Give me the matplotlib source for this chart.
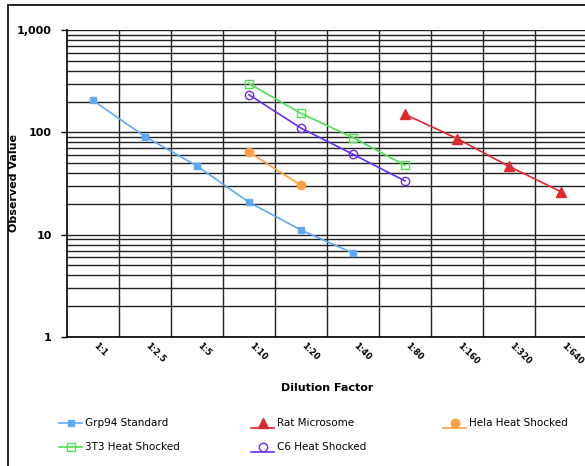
import numpy as np
import matplotlib
matplotlib.use('agg')
import matplotlib.pyplot as plt
import matplotlib.transforms as mtransforms
from matplotlib.patches import Rectangle
from matplotlib.lines import Line2D
from matplotlib.legend_handler import HandlerBase
from matplotlib.ticker import FixedLocator, NullFormatter

# categories and series
dilutions = ['1:1', '1:2.5', '1:5', '1:10', '1:20', '1:40', '1:80', '1:160', '1:320', '1:640']
grp94_x = [0, 1, 2, 3, 4, 5]
grp94 = [205, 91, 47, 20.7, 11.1, 6.6]
rat_x = [6, 7, 8, 9]
rat = [150, 87, 46.5, 26.3]
hela_x = [3, 4]
hela = [64, 30.4]
t3_x = [3, 4, 5, 6]
t3 = [300, 153, 89, 47.5]
c6_x = [3, 4, 5, 6]
c6 = [233, 110, 61, 33.5]


class ExcelHandler(HandlerBase):
    # line + marker; 'under' puts the line below the marker like the old Excel legend
    def __init__(self, under=False):
        super().__init__()
        self.under = under

    def create_artists(self, legend, orig, xdescent, ydescent, width, height, fontsize, trans):
        ym = height / 2 - ydescent
        yl = -ydescent - 1 if self.under else ym
        line = Line2D([-xdescent, width - xdescent], [yl, yl], color=orig.get_color(),
                      lw=orig.get_linewidth(), transform=trans)
        mk = Line2D([width / 2 - xdescent], [ym], marker=orig.get_marker(), ms=orig.get_markersize(),
                    mfc=orig.get_markerfacecolor(), mec=orig.get_markeredgecolor(),
                    ls='none', transform=trans)
        return [line, mk]


W, H = 585, 466
fig = plt.figure(figsize=(W / 100, H / 100), dpi=100)
fig.patches.append(Rectangle((8 / W, -0.1), 1.2, 1 - 5 / H + 0.1, transform=fig.transFigure,
                             fill=False, edgecolor='black', linewidth=1.2))

ax = fig.add_axes([67 / W, 1 - 337 / H, 520 / W, 307 / H])
ax.set_yscale('log')
ax.set_ylim(1, 1000)
ax.set_xlim(-0.5, len(dilutions) - 0.5)

# grid: every decade subdivision plus category boundaries
ax.yaxis.set_major_locator(FixedLocator([1, 10, 100, 1000]))
ax.yaxis.set_minor_locator(FixedLocator([m * 10 ** e for e in range(3) for m in range(2, 10)]))
ax.yaxis.set_minor_formatter(NullFormatter())
ax.set_yticklabels(['1', '10', '100', '1,000'], fontweight='bold', fontsize=8)
ax.grid(True, which='both', axis='y', color='#222222', linewidth=1)
for b in np.arange(0.5, len(dilutions) - 0.5, 1):
    ax.axvline(b, color='#222222', linewidth=1, zorder=0.5)
ax.tick_params(axis='y', which='minor', length=0)
ax.tick_params(axis='y', which='major', length=4, width=1, pad=7)

ax.set_xticks(range(len(dilutions)))
ax.set_xticklabels(dilutions, rotation=-45, ha='left', va='top', fontweight='bold', fontsize=6,
                   rotation_mode='anchor')
ax.tick_params(axis='x', length=0, pad=3)
shift = mtransforms.ScaledTranslation(5 / 100, 0, fig.dpi_scale_trans)
for lab in ax.get_xticklabels():
    lab.set_transform(lab.get_transform() + shift)
for s in ax.spines.values():
    s.set_visible(False)
ax.spines['left'].set_visible(True)
ax.spines['bottom'].set_visible(True)
ax.spines['left'].set_linewidth(1.2)
ax.spines['bottom'].set_linewidth(1.2)

ax.set_xlabel('Dilution Factor', fontweight='bold', fontsize=8, labelpad=12)
ax.set_ylabel('Observed Value', fontweight='bold', fontsize=8)
ax.yaxis.set_label_coords(-48 / 520, 0.5)

ms = 5
l_grp, = ax.plot(grp94_x, grp94, color='#5fa8f5', marker='s', ms=ms, lw=1.2, label='Grp94 Standard')
l_rat, = ax.plot(rat_x, rat, color='#dd2a2e', marker='^', ms=ms + 2, lw=1.2, label='Rat Microsome')
l_hela, = ax.plot(hela_x, hela, color='#ffa040', marker='o', ms=ms + 1, lw=1.2, label='Hela Heat Shocked')
l_t3, = ax.plot(t3_x, t3, color='#55dd55', marker='s', ms=ms + 1, mfc='none', lw=1.2, label='3T3 Heat Shocked')
l_c6, = ax.plot(c6_x, c6, color='#6a2df0', marker='o', ms=ms + 1, mfc='none', lw=1.2, label='C6 Heat Shocked')

columns = [([l_grp, l_t3], 50), ([l_rat, l_c6], 242), ([l_hela], 434)]
hmap = {l_grp: ExcelHandler(), l_t3: ExcelHandler(), l_rat: ExcelHandler(True),
        l_c6: ExcelHandler(True), l_hela: ExcelHandler(True)}
for handles, x0 in columns:
    leg = fig.legend(handles=handles, loc='upper left', bbox_to_anchor=(x0 / W, 1 - 409 / H),
                     frameon=False, fontsize=7.5, handlelength=2.2, handletextpad=0.3,
                     labelspacing=1.35, handler_map=hmap)

fig.savefig('out.png', dpi=100)
